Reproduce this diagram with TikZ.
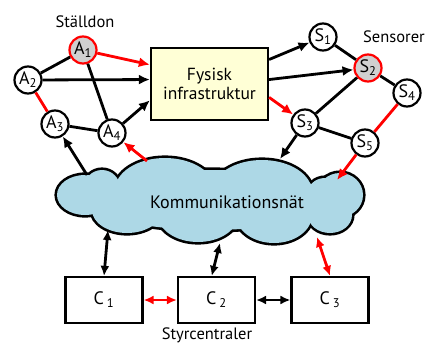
\documentclass[tikz,border=0pt]{standalone}
\usepackage{fontspec}
\setmainfont{PT Sans}
\usetikzlibrary{arrows.meta,calc}
\definecolor{cloudblue}{HTML}{ADD8E6}
\definecolor{boxyellow}{HTML}{FFFFD6}
\definecolor{nodegrey}{HTML}{D0D0D0}
\definecolor{myred}{HTML}{FF0000}
\begin{document}
\begin{tikzpicture}[x=1pt,y=-1pt,
  circ/.style={circle, draw, line width=2.2pt, fill=white, minimum size=27pt, inner sep=0pt, font=\fontsize{18}{18}\selectfont},
  hot/.style={circ, draw=myred, fill=nodegrey},
  conn/.style={line width=2.8pt},
  arr/.style={conn, -{Latex[length=11pt,width=10pt]}},
  darr/.style={conn, {Latex[length=10pt,width=9pt]}-{Latex[length=10pt,width=9pt]}},
  rd/.style={draw=myred, color=myred},
  cbox/.style={draw, line width=2.2pt, fill=white, minimum width=77pt, minimum height=46pt, inner sep=0pt, font=\fontsize{18}{18}\selectfont},
  lbl/.style={font=\fontsize{16.5}{16.5}\selectfont, inner sep=0pt}
]
\useasboundingbox (0,0) rectangle (429,345);
% cloud
\def\cloudlist{85/195/28/20, 102/188/18/18, 165/190/50/32, 262/192/50/32, 325/195/18/17, 340/195/23/22, 127/210/35/23, 198/215/40/27, 274/215/38/28, 330/215/22/18, 210/200/120/30}
\foreach \cx/\cy/\rx/\ry in \cloudlist { \draw[line width=5.2pt] (\cx,\cy) ellipse [x radius=\rx, y radius=\ry]; }
\foreach \cx/\cy/\rx/\ry in \cloudlist { \fill[cloudblue] (\cx,\cy) ellipse [x radius=\rx, y radius=\ry]; }
\node[lbl, font=\fontsize{18}{18}\selectfont] (net) at (227,202) {Kommunikationsnät};
\coordinate (nA3) at (87,175);
\coordinate (nA4) at (147,161);
\coordinate (nS3) at (280,159);
\coordinate (nS5) at (337,180);
\coordinate (nC1) at (108,230);
\coordinate (nC2) at (220,243);
\coordinate (nC3) at (317,237);

% box
\node[draw, line width=2.2pt, fill=boxyellow, minimum width=117pt, minimum height=72pt, align=center, inner sep=0pt, font=\fontsize{17.5}{19}\selectfont] (fys) at (209.5,84) {Fysisk\\infrastruktur};

% actuators
\node[hot] (A1) at (83,50) {A\textsubscript{1}};
\node[circ] (A2) at (28,80) {A\textsubscript{2}};
\node[circ] (A3) at (55,124) {A\textsubscript{3}};
\node[circ] (A4) at (112,133) {A\textsubscript{4}};
% sensors
\node[circ] (S1) at (323,37) {S\textsubscript{1}};
\node[hot] (S2) at (368,68) {S\textsubscript{2}};
\node[circ] (S4) at (407,93) {S\textsubscript{4}};
\node[circ] (S3) at (305,123) {S\textsubscript{3}};
\node[circ] (S5) at (365,143) {S\textsubscript{5}};

\node[lbl] (tA) at (85,22) {Ställdon};
\node[lbl] (tS) at (394,37) {Sensorer};

% controllers
\node[cbox] (C1) at (104,300) {C\,\textsubscript{1}};
\node[cbox] (C2) at (216.5,300) {C\,\textsubscript{2}};
\node[cbox] (C3) at (330,300) {C\,\textsubscript{3}};
\node[lbl] (tC) at (207,335) {Styrcentraler};

% links
\draw[conn] (A1) -- (A2);
\draw[conn] (A1) -- (A4);
\draw[conn, rd] (A2) -- (A3);
\draw[conn] (A3) -- (A4);
\draw[conn] (S1) -- (S2);
\draw[conn] (S2) -- (S4);
\draw[conn] (S2) -- (S3);
\draw[conn] (S3) -- (S5);
\draw[conn, rd] (S4) -- (S5);
\draw[arr, rd] (A1) -- ($(fys.north west)!0.24!(fys.south west)$);
\draw[arr] (A2) -- ($(fys.north west)!0.44!(fys.south west)$);
\draw[arr] (A4) -- ($(fys.north west)!0.72!(fys.south west)$);
\draw[arr] ($(fys.north east)!0.17!(fys.south east)$) -- (S1);
\draw[arr] ($(fys.north east)!0.44!(fys.south east)$) -- (S2);
\draw[arr, rd] ($(fys.north east)!0.68!(fys.south east)$) -- (S3);
\draw[arr] (nA3) -- (A3);
\draw[arr, rd] (nA4) -- (A4);
\draw[arr] (S3) -- (nS3);
\draw[arr, rd] (S5) -- (nS5);
\draw[darr] (nC1) -- (C1.north);
\draw[darr] (nC2) -- ($(C2.north west)!0.44!(C2.north east)$);
\draw[darr, rd] (nC3) -- (C3.north);
\draw[darr, rd] (C1) -- (C2);
\draw[darr] (C2) -- (C3);
\end{tikzpicture}
\end{document}
